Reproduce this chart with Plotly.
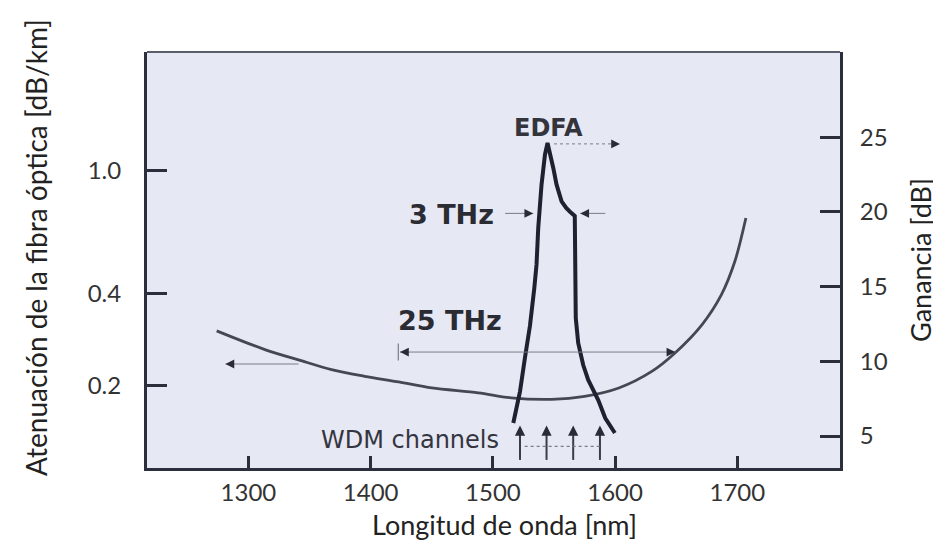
import plotly.graph_objects as go

# ---------------- data ----------------
# Fibre attenuation curve (left axis, dB/km, log scale)
att_x = [1274, 1314, 1341, 1368, 1395, 1423, 1450, 1488, 1515, 1548, 1575,
         1603, 1630, 1649, 1671, 1687, 1698, 1707]
att_y = [0.302, 0.262, 0.243, 0.226, 0.215, 0.206, 0.197, 0.190, 0.183,
         0.181, 0.185, 0.197, 0.223, 0.256, 0.316, 0.396, 0.508, 0.702]

# EDFA gain curve (right axis, dB)
gain_x = [1516.7, 1522.2, 1526.2, 1530.3, 1533.9, 1535.7, 1537.1, 1538.5,
          1539.8, 1542.6, 1544.7, 1549.4, 1552.1, 1556.2, 1560.0, 1563.3,
          1567.0, 1567.1, 1567.1, 1567.1, 1567.8, 1569.8, 1573.9, 1578.0,
          1586.2, 1591.9, 1599.8]
gain_y = [5.87, 7.99, 10.22, 12.36, 14.91, 16.47, 18.92, 20.93, 21.82,
          23.83, 24.61, 22.94, 21.82, 20.71, 20.26, 19.99, 19.73, 18.92,
          16.24, 14.24, 12.90, 11.23, 9.75, 8.75, 7.41, 6.20, 5.20]

# WDM channel wavelengths (nm)
wdm_x = [1522.2, 1543.9, 1565.7, 1587.6]

x_ticks = [1300, 1400, 1500, 1600, 1700]
att_ticks = [0.2, 0.4, 1.0]
att_tick_text = ["0.2", "0.4", "1.0"]
gain_ticks = [5, 10, 15, 20, 25]

FRAME = "#2b2f3c"
LINE_GREY = "#7a7d86"
HEAD = "#2a2c35"

fig = go.Figure()

fig.add_trace(go.Scatter(
    x=att_x, y=att_y, mode="lines", yaxis="y",
    line=dict(color="#454853", width=2.8, shape="spline", smoothing=0.9),
    showlegend=False, hoverinfo="skip"))

fig.add_trace(go.Scatter(
    x=gain_x, y=gain_y, mode="lines", yaxis="y2",
    line=dict(color="#1e2130", width=4),
    showlegend=False, hoverinfo="skip"))

shapes = []
annotations = []


def arrow(x0, y0, x1, y1, head_dir, dash="solid", color=LINE_GREY, width=1):
    """Thin line from (x0,y0) to (x1,y1) on x/y2 with a dark head at (x1,y1)."""
    shapes.append(dict(type="line", xref="x", yref="y2", x0=x0, y0=y0,
                       x1=x1, y1=y1, line=dict(color=color, width=width, dash=dash)))
    dx, dy = head_dir
    annotations.append(dict(x=x1, y=y1, xref="x", yref="y2", text="",
                            showarrow=True, ax=-dx * 7, ay=dy * 7,
                            arrowhead=2, arrowsize=1.6, arrowwidth=1.1,
                            arrowcolor=HEAD))


# EDFA arrow (peak -> right axis)
arrow(1550, 24.55, 1604, 24.55, (1, 0), dash="dot")
# 3 THz arrows
arrow(1510, 19.9, 1533, 19.9, (1, 0))
arrow(1592, 19.9, 1571.5, 19.9, (-1, 0))
# 25 THz double arrow
arrow(1540, 10.62, 1649.3, 10.62, (1, 0))
arrow(1540, 10.62, 1424, 10.62, (-1, 0))
shapes.append(dict(type="line", xref="x", yref="y2", x0=1422.6, x1=1422.6,
                   y0=10.05, y1=11.2, line=dict(color=LINE_GREY, width=1.2)))
# attenuation -> left axis arrow
arrow(1341, 9.82, 1281.2, 9.82, (-1, 0))
# WDM channel arrows
for wx in wdm_x:
    shapes.append(dict(type="line", xref="x", yref="y2", x0=wx, x1=wx,
                       y0=3.4, y1=5.5, line=dict(color="#3a3c46", width=2)))
    annotations.append(dict(x=wx, y=5.7, xref="x", yref="y2", text="",
                            showarrow=True, ax=0, ay=8, arrowhead=2,
                            arrowsize=1.7, arrowwidth=1.2, arrowcolor=HEAD))
shapes.append(dict(type="line", xref="x", yref="y2", x0=1526, x1=1588,
                   y0=4.31, y1=4.31, line=dict(color=LINE_GREY, width=1.2, dash="dot")))

# top frame (thinner)
shapes.append(dict(type="line", xref="paper", yref="paper", x0=0, x1=1,
                   y0=1, y1=1, line=dict(color="#5a5e6a", width=2)))

TXT = "#2a2b33"
annotations += [
    dict(x=1545.3, y=25.62, xref="x", yref="y2", text="<b>EDFA</b>", showarrow=False,
         font=dict(family="DejaVu Sans", size=24, color="#33343c")),
    dict(x=1466.5, y=19.8, xref="x", yref="y2", text="<b>3 THz</b>", showarrow=False,
         font=dict(family="DejaVu Sans", size=27, color=TXT)),
    dict(x=1464.8, y=12.7, xref="x", yref="y2", text="<b>25 THz</b>", showarrow=False,
         font=dict(family="DejaVu Sans", size=27, color=TXT)),
    dict(x=1432.5, y=4.73, xref="x", yref="y2", text="WDM channels", showarrow=False,
         font=dict(family="DejaVu Sans", size=24, color="#34353e")),
    # axis titles placed explicitly
    dict(x=0.516, y=-0.135, xref="paper", yref="paper", xanchor="center",
         yanchor="middle", text="Longitud de onda [nm]", showarrow=False,
         font=dict(family="Lato", size=27, color="#222222")),
    dict(x=-0.160, y=0.529, xref="paper", yref="paper", xanchor="center",
         yanchor="middle", textangle=-90, showarrow=False,
         text="Atenuación de la fibra óptica [dB/km]",
         font=dict(family="Lato", size=28, color="#222222")),
]

FONT = "Lato"
fig.update_layout(
    width=941, height=541,
    margin=dict(l=139, r=109, t=44, b=81),
    paper_bgcolor="white",
    plot_bgcolor="#e6e8f3",
    font=dict(family=FONT, size=24, color="#333333"),
    shapes=shapes,
    annotations=annotations,
    xaxis=dict(
        range=[1217, 1784], tickvals=x_ticks, showgrid=False, zeroline=False,
        showline=True, linecolor=FRAME, linewidth=3,
        ticks="inside", ticklen=12, tickwidth=3, tickcolor=FRAME,
        ticklabelstandoff=1,
    ),
    yaxis=dict(
        type="log", range=[-0.9655, 0.3856], tickvals=att_ticks,
        ticktext=att_tick_text, showgrid=False, zeroline=False,
        showline=True, linecolor=FRAME, linewidth=3,
        ticks="inside", ticklen=20, tickwidth=3, tickcolor=FRAME,
        ticklabelstandoff=18,
    ),
    yaxis2=dict(
        overlaying="y", side="right", anchor="x",
        range=[2.86, 30.70], tickvals=gain_ticks, showgrid=False, zeroline=False,
        showline=True, linecolor=FRAME, linewidth=3,
        ticks="inside", ticklen=20, tickwidth=3, tickcolor=FRAME,
        ticklabelstandoff=12,
        title=dict(text="Ganancia [dB]", font=dict(size=27, color="#222222"),
                   standoff=26),
    ),
)

fig.write_html("out.html")
